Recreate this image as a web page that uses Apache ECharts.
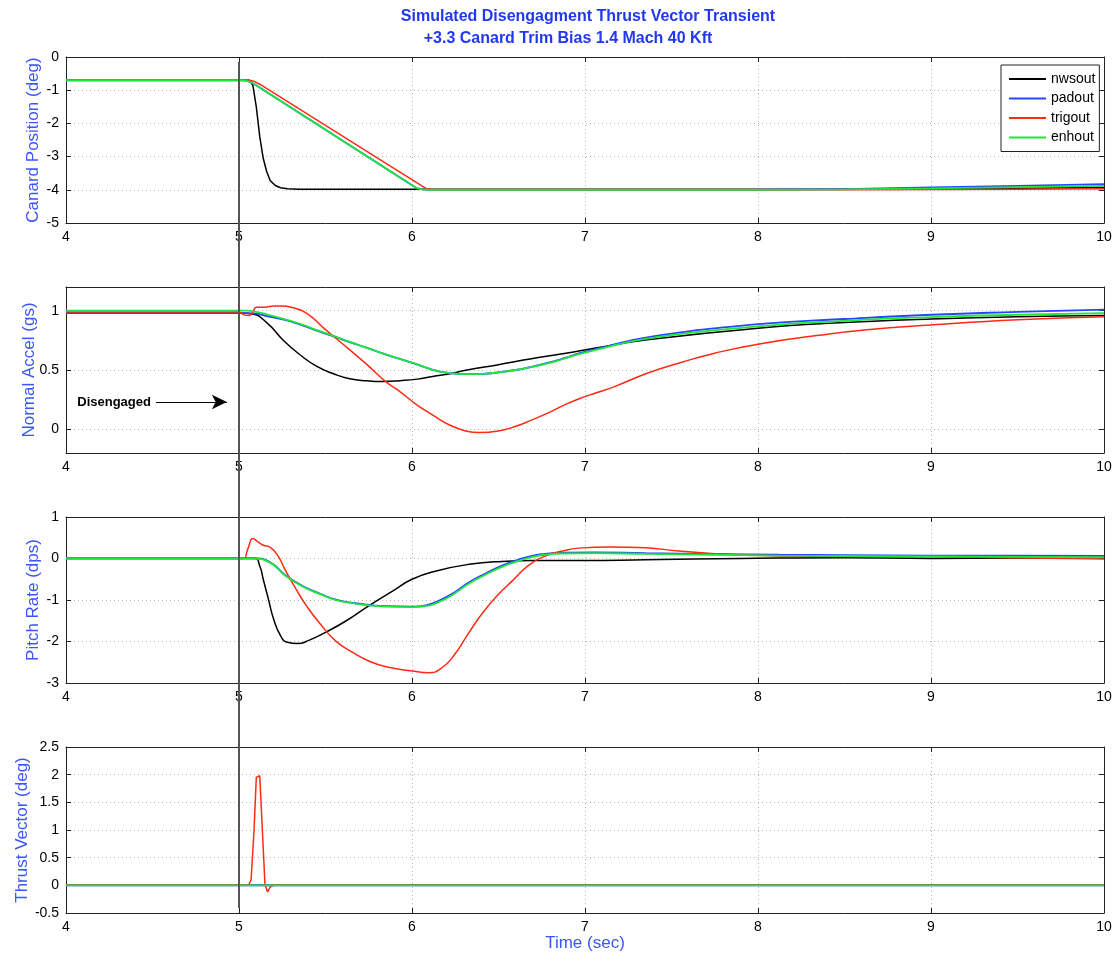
<!DOCTYPE html>
<html><head><meta charset="utf-8">
<script src="https://cdn.jsdelivr.net/npm/echarts@6/dist/echarts.min.js"></script>
<style>html,body{margin:0;padding:0;background:#fff}#c{width:1120px;height:957px}</style>
</head><body><div id="c"></div>
<script>
// ---------- DATA ----------
const titleLine1 = 'Simulated Disengagment Thrust Vector Transient';
const titleLine2 = '+3.3 Canard Trim Bias 1.4 Mach 40 Kft';
const seriesNames = ['nwsout', 'padout', 'trigout', 'enhout'];
const xLabel = 'Time (sec)';
const yLabels = ['Canard Position (deg)', 'Normal Accel (gs)', 'Pitch Rate (dps)', 'Thrust Vector (deg)'];
const disengageTime = 5;
const disengagedText = 'Disengaged';
const disengagedArrow = [[4.52, 0.23], [4.93, 0.23]];

// Canard position
const canT_nws = [4, 5.06, 5.08, 5.10, 5.12, 5.14, 5.16, 5.18, 5.21, 5.24, 5.28, 5.35, 6, 7, 8, 8.5, 9, 9.5, 10];
const canV_nws = [-0.7, -0.7, -0.85, -1.5, -2.4, -3.05, -3.45, -3.72, -3.87, -3.94, -3.97, -3.98, -3.98, -3.98, -3.98, -3.98, -3.97, -3.95, -3.93];
const canT_pad = [4, 5.03, 5.06, 5.09, 6.03, 6.06, 6.1, 7, 8, 8.5, 9, 9.5, 10];
const canV_pad = [-0.7, -0.7, -0.74, -0.82, -3.96, -3.99, -4.0, -4.0, -4.0, -3.98, -3.93, -3.88, -3.83];
const canT_tri = [4, 5.06, 5.09, 5.12, 6.08, 6.11, 6.15, 7, 8, 8.5, 9, 9.5, 10];
const canV_tri = [-0.7, -0.7, -0.74, -0.82, -3.96, -3.99, -4.0, -4.0, -4.0, -4.0, -3.99, -3.98, -3.97];
const canT_enh = [4, 5.03, 5.06, 5.09, 6.03, 6.06, 6.1, 7, 8, 8.5, 9, 9.5, 10];
const canV_enh = [-0.7, -0.7, -0.74, -0.82, -3.96, -3.99, -4.0, -4.0, -4.0, -3.99, -3.96, -3.92, -3.88];

// Normal accel
const nzT_nws = [4, 5.0, 5.07, 5.16, 5.26, 5.36, 5.45, 5.55, 5.64, 5.74, 5.83, 5.93, 6.03, 6.12, 6.22, 6.31, 6.5, 6.69, 6.88, 7.07, 7.36, 8, 8.5, 9, 9.5, 10];
const nzV_nws = [0.98, 0.98, 0.975, 0.90, 0.744, 0.62, 0.53, 0.466, 0.426, 0.409, 0.403, 0.41, 0.423, 0.446, 0.468, 0.497, 0.545, 0.594, 0.639, 0.687, 0.755, 0.853, 0.90, 0.93, 0.95, 0.96];
const nzT_pad = [4, 5.05, 5.1, 5.16, 5.26, 5.36, 5.45, 5.55, 5.64, 5.74, 5.83, 5.93, 6.03, 6.12, 6.22, 6.31, 6.41, 6.5, 6.6, 6.69, 6.79, 6.88, 6.97, 7.07, 7.36, 8, 8.5, 9, 9.5, 10];
const nzV_pad = [0.98, 0.98, 0.975, 0.955, 0.925, 0.88, 0.832, 0.783, 0.735, 0.686, 0.64, 0.593, 0.547, 0.502, 0.474, 0.466, 0.468, 0.48, 0.50, 0.527, 0.562, 0.60, 0.642, 0.68, 0.775, 0.887, 0.93, 0.966, 0.99, 1.01];
const nzT_tri = [4, 5.0, 5.03, 5.06, 5.08, 5.1, 5.15, 5.2, 5.25, 5.3, 5.39, 5.5, 5.64, 5.74, 5.85, 5.93, 6.03, 6.12, 6.22, 6.31, 6.39, 6.5, 6.6, 6.69, 6.79, 6.88, 6.97, 7.07, 7.17, 7.36, 7.56, 7.75, 8, 8.34, 8.63, 9, 9.5, 10];
const nzV_tri = [0.99, 0.99, 0.965, 0.96, 0.99, 1.03, 1.03, 1.04, 1.04, 1.03, 0.98, 0.84, 0.67, 0.545, 0.40, 0.318, 0.204, 0.12, 0.034, -0.014, -0.028, -0.014, 0.025, 0.077, 0.14, 0.204, 0.26, 0.31, 0.36, 0.473, 0.566, 0.642, 0.718, 0.79, 0.84, 0.88, 0.924, 0.95];
const nzT_enh = [4, 5.05, 5.1, 5.16, 5.26, 5.36, 5.45, 5.55, 5.64, 5.74, 5.83, 5.93, 6.03, 6.12, 6.22, 6.31, 6.41, 6.5, 6.6, 6.69, 6.79, 6.88, 6.97, 7.07, 7.36, 8, 8.5, 9, 9.5, 10];
const nzV_enh = [1.0, 1.0, 0.99, 0.97, 0.93, 0.886, 0.836, 0.786, 0.737, 0.687, 0.64, 0.593, 0.547, 0.502, 0.474, 0.466, 0.468, 0.48, 0.50, 0.525, 0.558, 0.596, 0.636, 0.672, 0.765, 0.868, 0.915, 0.946, 0.966, 0.98];

// Pitch rate
const qT_nws = [4, 5.09, 5.12, 5.14, 5.17, 5.2, 5.24, 5.28, 5.34, 5.4, 5.5, 5.62, 5.75, 5.89, 6.0, 6.14, 6.33, 6.52, 6.7, 7.0, 7.35, 7.9, 8.5, 9, 9.5, 10];
const qV_nws = [0, 0, -0.18, -0.5, -0.98, -1.46, -1.86, -2.02, -2.05, -1.98, -1.78, -1.50, -1.14, -0.78, -0.50, -0.30, -0.14, -0.07, -0.05, -0.05, -0.03, 0.0, 0.02, 0.0, 0.01, 0.02];
const qT_pad = [4, 5.08, 5.18, 5.27, 5.37, 5.47, 5.56, 5.66, 5.75, 5.85, 6.0, 6.08, 6.16, 6.24, 6.33, 6.43, 6.52, 6.62, 6.7, 6.77, 6.87, 7.06, 7.35, 7.73, 8.12, 8.5, 9, 9.5, 10];
const qV_pad = [0.01, 0.01, -0.09, -0.41, -0.67, -0.85, -0.99, -1.07, -1.12, -1.15, -1.16, -1.13, -1.01, -0.83, -0.57, -0.35, -0.17, -0.02, 0.07, 0.11, 0.14, 0.15, 0.13, 0.11, 0.09, 0.08, 0.07, 0.07, 0.06];
const qT_tri = [4, 5.02, 5.05, 5.08, 5.11, 5.14, 5.18, 5.22, 5.27, 5.33, 5.39, 5.47, 5.56, 5.66, 5.75, 5.85, 6.0, 6.1, 6.16, 6.24, 6.33, 6.41, 6.5, 6.58, 6.67, 6.77, 6.87, 6.96, 7.15, 7.35, 7.54, 7.73, 7.92, 8.5, 9, 9.5, 10];
const qV_tri = [0, 0, 0.22, 0.48, 0.40, 0.32, 0.27, 0.10, -0.30, -0.74, -1.14, -1.58, -1.99, -2.27, -2.47, -2.61, -2.71, -2.75, -2.67, -2.35, -1.78, -1.30, -0.86, -0.54, -0.18, 0.06, 0.18, 0.25, 0.28, 0.26, 0.18, 0.12, 0.08, 0.05, 0.04, 0.02, -0.01];
const qT_enh = [4, 5.08, 5.18, 5.27, 5.37, 5.47, 5.56, 5.66, 5.75, 5.85, 6.0, 6.08, 6.16, 6.24, 6.33, 6.43, 6.52, 6.62, 6.7, 6.77, 6.87, 7.06, 7.35, 7.73, 8.12, 8.5, 9, 9.5, 10];
const qV_enh = [0, 0, -0.1, -0.42, -0.68, -0.86, -1.0, -1.08, -1.13, -1.16, -1.17, -1.15, -1.04, -0.86, -0.6, -0.38, -0.2, -0.05, 0.04, 0.09, 0.12, 0.13, 0.11, 0.09, 0.07, 0.06, 0.05, 0.04, 0.03];

// Thrust vector
const tvT_nws = [4, 10];
const tvV_nws = [0, 0];
const tvT_pad = [4, 10];
const tvV_pad = [0, 0];
const tvT_tri = [4, 5.055, 5.07, 5.087, 5.10, 5.12, 5.135, 5.15, 5.165, 5.18, 5.2, 10];
const tvV_tri = [0, 0, 0.1, 1.0, 1.95, 1.98, 1.0, 0.02, -0.12, -0.03, 0, 0];
const tvT_enh = [4, 10];
const tvV_enh = [0, 0];

// Axis ranges / ticks
const xRange = [4, 10];
const xStep = 1;
const yRanges = [[-5, 0], [-0.2, 1.2], [-3, 1], [-0.5, 2.5]];
const yTicks = [
  [-5, -4, -3, -2, -1, 0],
  [0, 0.5, 1],
  [-3, -2, -1, 0, 1],
  [-0.5, 0, 0.5, 1, 1.5, 2, 2.5]
];

// ---------- STYLE / LAYOUT ----------
const colors = ['#000000', '#2846ff', '#ff2a14', '#1ee63c'];
const panelTops = [57, 287, 517, 747];
const panelH = 166;
const nameGaps = [24, 28, 24, 35];
const smoothPanels = [false, true, true, false];
const axisCol = '#222';
const titleBlue = '#2238f0';
const nameBlue = '#3a55ff';
const baseFont = 'Liberation Sans, Arial, sans-serif';
const tickFont = {fontFamily: baseFont, fontSize: 14, color: '#000'};

const panels = [
  [[canT_nws, canV_nws], [canT_pad, canV_pad], [canT_tri, canV_tri], [canT_enh, canV_enh]],
  [[nzT_nws, nzV_nws], [nzT_pad, nzV_pad], [nzT_tri, nzV_tri], [nzT_enh, nzV_enh]],
  [[qT_nws, qV_nws], [qT_pad, qV_pad], [qT_tri, qV_tri], [qT_enh, qV_enh]],
  [[tvT_nws, tvV_nws], [tvT_pad, tvV_pad], [tvT_tri, tvV_tri], [tvT_enh, tvV_enh]]
];

const zip = (t, v) => t.map((x, i) => [x, v[i]]);
const dotted = {color: '#b4b4b4', width: 1, type: [1, 3]};

const grid = [], xAxis = [], yAxis = [], series = [];
panels.forEach((pan, i) => {
  grid.push({left: 66, right: 16, top: panelTops[i], height: panelH, containLabel: false});
  xAxis.push({
    gridIndex: i, type: 'value', min: xRange[0], max: xRange[1], interval: xStep, position: 'bottom',
    axisLine: {show: true, onZero: false, lineStyle: {color: axisCol, width: 1}},
    axisTick: {show: true, inside: true, length: 5, lineStyle: {color: axisCol}},
    axisLabel: Object.assign({margin: 7}, tickFont),
    splitLine: {show: true, lineStyle: dotted},
    name: i === 3 ? xLabel : '', nameLocation: 'middle', nameGap: 22, nameMoveOverlap: false,
    nameTextStyle: {color: nameBlue, fontSize: 17, fontFamily: baseFont}
  });
  xAxis.push({
    gridIndex: i, type: 'value', min: xRange[0], max: xRange[1], interval: xStep, position: 'top',
    axisLine: {show: true, onZero: false, lineStyle: {color: axisCol, width: 1}},
    axisTick: {show: true, inside: true, length: 5, lineStyle: {color: axisCol}},
    axisLabel: {show: false}, splitLine: {show: false}
  });
  const yr = yRanges[i];
  const yBase = {
    gridIndex: i, type: 'value', min: yr[0], max: yr[1],
    axisLine: {show: true, onZero: false, lineStyle: {color: axisCol, width: 1}}
  };
  yAxis.push(Object.assign({}, yBase, {
    position: 'left',
    axisTick: {show: true, inside: true, length: 5, lineStyle: {color: axisCol}, customValues: yTicks[i]},
    axisLabel: Object.assign({margin: 7, customValues: yTicks[i]}, tickFont),
    splitLine: {show: true, lineStyle: dotted},
    name: yLabels[i], nameLocation: 'middle', nameGap: nameGaps[i], nameMoveOverlap: false,
    nameTextStyle: {color: nameBlue, fontSize: 17, fontFamily: baseFont}
  }));
  yAxis.push(Object.assign({}, yBase, {
    position: 'right',
    axisTick: {show: true, inside: true, length: 5, lineStyle: {color: axisCol}, customValues: yTicks[i]},
    axisLabel: {show: false, customValues: yTicks[i]}, splitLine: {show: false}
  }));
  pan.forEach((tv, s) => {
    const ser = {
      name: seriesNames[s], type: 'line', xAxisIndex: 2 * i, yAxisIndex: 2 * i,
      data: zip(tv[0], tv[1]), symbol: 'none', showSymbol: false,
      smooth: smoothPanels[i] ? 0.5 : false,
      lineStyle: {color: colors[s], width: s === 3 || s === 1 ? 1.8 : 1.5},
      itemStyle: {color: colors[s]}, z: 2 + s, animation: false
    };
    if (i === 1 && s === 0) {
      ser.markLine = {
        silent: true, animation: false, symbol: ['none', 'arrow'], symbolSize: [11, 15],
        lineStyle: {color: '#000', width: 1, type: 'solid'},
        label: {show: true, position: 'start', distance: 5, formatter: disengagedText,
          fontFamily: baseFont, fontWeight: 'bold', fontSize: 13, color: '#000'},
        data: [[{coord: disengagedArrow[0]}, {coord: disengagedArrow[1]}]]
      };
    }
    series.push(ser);
  });
});

const chart = echarts.init(document.getElementById('c'), null, {renderer: 'canvas'});
chart.setOption({
  animation: false,
  backgroundColor: '#fff',
  title: [
    {text: titleLine1, left: 583, top: 4, textAlign: 'center',
      textStyle: {color: titleBlue, fontSize: 16, fontWeight: 'bold', fontFamily: baseFont}},
    {text: titleLine2, left: 563, top: 26, textAlign: 'center',
      textStyle: {color: titleBlue, fontSize: 16, fontWeight: 'bold', fontFamily: baseFont}}
  ],
  legend: {
    data: seriesNames.map(n => ({name: n, icon: 'rect'})),
    orient: 'vertical', left: 1001, top: 65,
    backgroundColor: '#fff', borderColor: '#222', borderWidth: 1, borderRadius: 0,
    padding: [6, 4, 6, 8], itemWidth: 37, itemHeight: 2, itemGap: 3.5,
    textStyle: {fontFamily: baseFont, fontSize: 14, color: '#000', lineHeight: 16, padding: [0, 0, 0, 0]},
    selectedMode: false, z: 20
  },
  grid, xAxis, yAxis, series
});

// vertical disengage marker through all panels
const pTop = chart.convertToPixel({gridIndex: 0}, [disengageTime, yRanges[0][1]]);
const pBot = chart.convertToPixel({gridIndex: 3}, [disengageTime, yRanges[3][0]]);
chart.setOption({
  graphic: [{
    type: 'line', z: 100,
    shape: {x1: pTop[0], y1: pTop[1] + 5, x2: pBot[0], y2: pBot[1] - 5},
    style: {stroke: '#555', lineWidth: 2}
  }]
});
</script></body></html>
